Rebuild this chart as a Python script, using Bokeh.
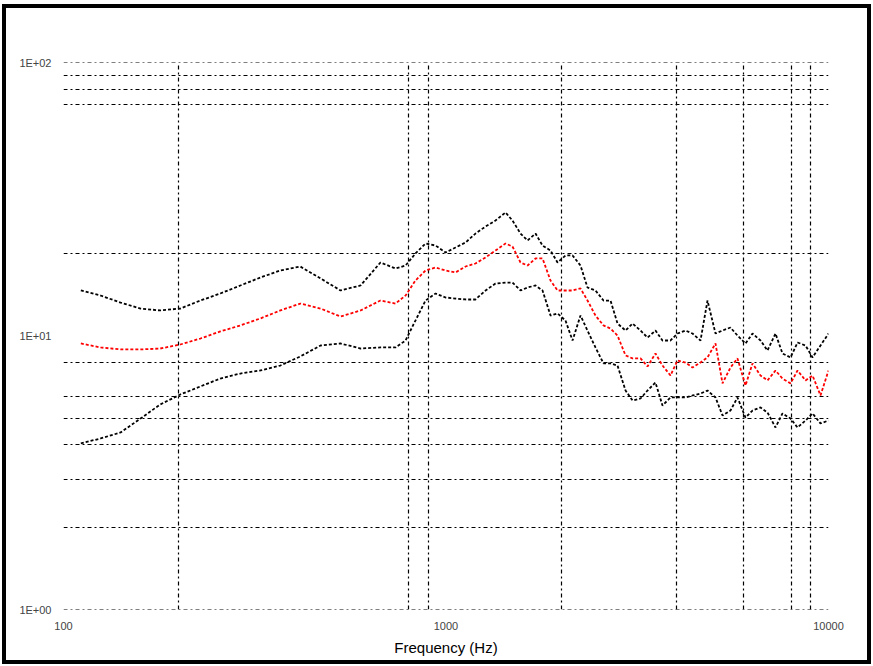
from bokeh.plotting import figure
from bokeh.models import FixedTicker, Span
from bokeh.embed import file_html
from bokeh.resources import INLINE

# Frequency (Hz) sample points shared by the three curves
FREQ = [111, 125, 141, 159, 179, 202, 228, 257, 290, 327, 369, 416, 470, 530, 598, 674,
        738, 784, 832, 884, 939, 997, 1059, 1125, 1194, 1269, 1347, 1431, 1492, 1566,
        1634, 1714, 1788, 1876, 1957, 2053, 2142, 2247, 2344, 2459, 2581, 2692, 2808,
        2947, 3074, 3225, 3364, 3529, 3681, 3863, 4029, 4228, 4410, 4628, 4827, 5065,
        5283, 5543, 5782, 6067, 6329, 6641, 6927, 7268, 7581, 7957, 8299, 8709, 9084,
        9530, 10000]

UPPER = [14.67, 14.06, 13.25, 12.60, 12.40, 12.60, 13.48, 14.30, 15.30, 16.36, 17.36, 17.95,
         16.23, 14.67, 15.30, 18.57, 17.65, 18.10, 20.03, 21.79, 21.42, 20.20, 21.06, 21.97,
         23.69, 25.14, 26.44, 28.29, 26.44, 23.69, 22.35, 23.69, 21.42, 20.54, 18.57, 19.70,
         19.70, 18.10, 15.04, 14.67, 13.48, 13.48, 11.11, 10.47, 11.11, 10.47, 9.87, 10.47,
         9.63, 9.63, 10.21, 10.47, 10.21, 9.63, 13.48, 10.21, 10.47, 10.74, 10.04, 9.39,
         10.21, 9.63, 8.85, 10.21, 8.63, 8.35, 9.47, 9.23, 8.35, 9.23, 10.21]

MEAN = [9.39, 9.08, 8.93, 8.93, 9.00, 9.31, 9.79, 10.39, 10.93, 11.59, 12.40, 13.14,
        12.60, 11.78, 12.40, 13.48, 13.14, 14.06, 15.95, 17.36, 17.80, 17.36, 17.07, 17.95,
        18.41, 19.37, 20.54, 21.79, 21.24, 18.57, 18.10, 19.21, 19.21, 15.95, 14.67, 14.67,
        14.67, 14.92, 13.48, 11.88, 10.93, 10.65, 10.04, 8.49, 8.28, 8.28, 7.74, 8.63,
        7.80, 7.17, 8.14, 8.00, 7.67, 8.00, 8.35, 9.39, 6.71, 7.67, 8.28, 6.59,
        7.94, 7.17, 6.88, 7.48, 6.99, 6.71, 7.48, 6.88, 7.17, 6.06, 7.48]

LOWER = [4.05, 4.22, 4.44, 4.99, 5.62, 6.11, 6.54, 6.99, 7.29, 7.48, 7.80, 8.42,
         9.23, 9.39, 9.00, 9.08, 9.08, 9.63, 11.39, 13.48, 14.30, 13.83, 13.71, 13.60,
         13.60, 14.67, 15.55, 15.68, 15.68, 14.67, 15.04, 15.30, 14.67, 11.88, 12.09, 11.39,
         9.63, 11.88, 10.47, 9.08, 7.94, 7.94, 7.80, 6.32, 5.81, 5.91, 6.32, 6.76,
         5.57, 5.96, 5.96, 5.96, 6.06, 6.16, 6.32, 5.96, 5.12, 5.34, 5.96, 5.03,
         5.34, 5.48, 5.25, 4.63, 5.21, 4.99, 4.63, 4.91, 5.21, 4.79, 4.91]

X_TICKS = [100, 1000, 10000]
X_LABELS = ["100", "1000", "10000"]
Y_TICKS = [1, 10, 100]
Y_LABELS = ["1E+00", "1E+01", "1E+02"]
X_GRID = [200, 800, 900, 2000, 4000, 6000, 8000, 9000]
Y_GRID = [2, 3, 4, 5, 6, 8, 20, 70, 80, 90]
Y_EDGE = [1, 100]

p = figure(width=869, height=660, x_axis_type="log", y_axis_type="log",
           x_range=(100, 10000), y_range=(1, 100),
           output_backend="svg", toolbar_location=None,
           min_border_left=57, min_border_right=47, min_border_top=54, min_border_bottom=59)
p.styles = {"border": "4px solid black", "margin-left": "2px", "margin-top": "4px"}
p.outline_line_color = None
p.background_fill_color = "white"
p.border_fill_color = "white"

grid_dash = "4 3 2 3"
p.xgrid.ticker = FixedTicker(ticks=X_GRID)
p.ygrid.ticker = FixedTicker(ticks=Y_GRID)
for g in (p.xgrid, p.ygrid):
    g.grid_line_color = "black"
    g.grid_line_width = 1.2
    g.grid_line_dash = grid_dash
    g.grid_line_alpha = 1.0
for loc in Y_EDGE:
    p.add_layout(Span(location=loc, dimension="width", line_color="black",
                      line_width=1.2, line_dash=grid_dash, line_alpha=1.0))

p.xaxis.ticker = FixedTicker(ticks=X_TICKS)
p.yaxis.ticker = FixedTicker(ticks=Y_TICKS)
p.xaxis.major_label_overrides = {t: l for t, l in zip(X_TICKS, X_LABELS)}
p.yaxis.major_label_overrides = {t: l for t, l in zip(Y_TICKS, Y_LABELS)}
for ax in (p.xaxis, p.yaxis):
    ax.axis_line_color = None
    ax.major_tick_line_color = None
    ax.minor_tick_line_color = None
    ax.major_label_text_font = "Liberation Sans"
    ax.major_label_text_font_size = "11px"
    ax.major_label_text_color = "#444444"
p.xaxis.major_label_standoff = 6
p.yaxis.major_label_standoff = 6
p.xaxis.axis_label = "Frequency (Hz)"
p.xaxis.axis_label_text_font = "Liberation Sans"
p.xaxis.axis_label_text_font_style = "normal"
p.xaxis.axis_label_text_font_size = "15px"
p.xaxis.axis_label_text_color = "black"
p.xaxis.axis_label_standoff = 6

p.line(FREQ, UPPER, color="black", line_width=1.8, line_dash="3 2")
p.line(FREQ, LOWER, color="black", line_width=1.8, line_dash="3 2")
p.line(FREQ, MEAN, color="red", line_width=1.8, line_dash="3 2")

open("out.html", "w").write(file_html(p, INLINE))
